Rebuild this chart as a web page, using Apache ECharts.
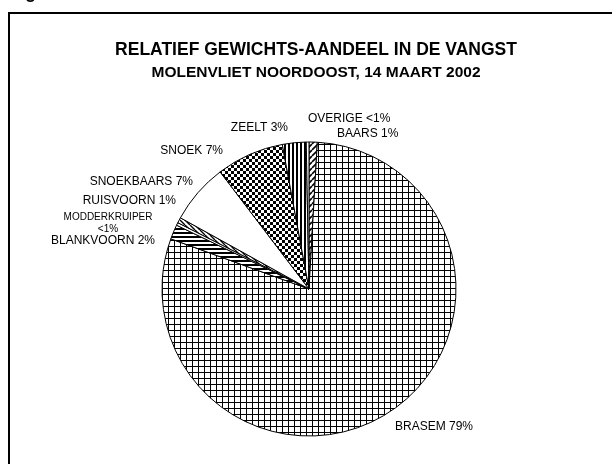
<!DOCTYPE html>
<html>
<head>
<meta charset="utf-8">
<script src="https://cdn.jsdelivr.net/npm/echarts@6/dist/echarts.min.js"></script>
<style>
  html, body { margin: 0; padding: 0; background: #fff; }
  #chart { width: 612px; height: 464px; }
</style>
</head>
<body>
<div id="chart"></div>
<script>
// Species and their share (%) of the catch weight, clockwise from 12 o'clock
const species = ['BAARS', 'BRASEM', 'BLANKVOORN', 'MODDERKRUIPER', 'RUISVOORN',
                 'SNOEKBAARS', 'SNOEK', 'ZEELT', 'OVERIGE'];
const shares = [0.9, 79.4, 1.6, 0.3, 0.6, 6.6, 7.4, 2.6, 0.3];

const titleText = 'RELATIEF GEWICHTS-AANDEEL IN DE VANGST';
const subtitleText = 'MOLENVLIET NOORDOOST, 14 MAART 2002';

const FONT = '"Liberation Sans", Arial, sans-serif';

// Black-and-white fill patterns
function pattern(size, draw) {
  const c = document.createElement('canvas');
  c.width = size; c.height = size;
  const ctx = c.getContext('2d');
  ctx.fillStyle = '#fff';
  ctx.fillRect(0, 0, size, size);
  ctx.fillStyle = '#000';
  ctx.strokeStyle = '#000';
  draw(ctx, size);
  return { image: c, repeat: 'repeat' };
}
function diagonal(dir, width) {
  return function (ctx, s) {
    ctx.lineWidth = width;
    ctx.beginPath();
    for (let o = -s; o <= s; o += s) {
      if (dir > 0) { ctx.moveTo(o, s); ctx.lineTo(o + s, 0); }
      else { ctx.moveTo(o, 0); ctx.lineTo(o + s, s); }
    }
    ctx.stroke();
  };
}
const fills = {
  BAARS: pattern(6, diagonal(1, 1.6)),
  BRASEM: pattern(6, (ctx, s) => { ctx.fillRect(0, 0, s, 1); ctx.fillRect(0, 0, 1, s); }),
  BLANKVOORN: pattern(4, (ctx, s) => { ctx.fillRect(0, 0, s, 2); }),
  MODDERKRUIPER: '#fff',
  RUISVOORN: pattern(5, diagonal(-1, 1.4)),
  SNOEKBAARS: '#fff',
  SNOEK: pattern(6, (ctx) => { ctx.fillRect(0, 0, 3, 3); ctx.fillRect(3, 3, 3, 3); }),
  ZEELT: pattern(4, (ctx, s) => { ctx.fillRect(0, 0, 2, s); }),
  OVERIGE: '#fff'
};

// Where each slice label sits next to the pie
const labelSpots = {
  BAARS: [337, 134, 'left'],
  BRASEM: [395, 427, 'left'],
  BLANKVOORN: [155, 241, 'right'],
  MODDERKRUIPER: [108, 223, 'center'],
  RUISVOORN: [176, 201, 'right'],
  SNOEKBAARS: [193, 182, 'right'],
  SNOEK: [223, 151, 'right'],
  ZEELT: [288, 128, 'right'],
  OVERIGE: [308, 119, 'left']
};

function pctText(v) {
  return v < 0.5 ? '<1%' : Math.round(v) + '%';
}

const pieData = species.map((name, i) => {
  const item = {
    name: name,
    value: shares[i],
    itemStyle: { color: fills[name] }
  };
  if (name === 'MODDERKRUIPER') {
    item.label = { fontSize: 10, lineHeight: 12, align: 'center' };
  }
  return item;
});

const chart = echarts.init(document.getElementById('chart'), null, { renderer: 'canvas' });

chart.setOption({
  animation: false,
  backgroundColor: '#fff',
  graphic: [
    {
      type: 'rect',
      shape: { x: 9, y: 13, width: 800, height: 800 },
      style: { fill: 'none', stroke: '#000', lineWidth: 2 },
      silent: true
    },
    {
      type: 'text',
      x: 9, y: -7,
      style: { text: 'Figuur', font: 'bold 18px ' + FONT, fill: '#000', verticalAlign: 'middle' },
      silent: true
    },
    {
      type: 'text',
      x: 316, y: 50,
      style: { text: titleText, font: 'bold 17.5px ' + FONT, fill: '#000', align: 'center', verticalAlign: 'middle' },
      silent: true
    },
    {
      type: 'text',
      x: 316, y: 73,
      style: { text: subtitleText, font: 'bold 15.5px ' + FONT, fill: '#000', align: 'center', verticalAlign: 'middle' },
      silent: true
    }
  ],
  series: [{
    type: 'pie',
    center: [309, 289],
    radius: 147,
    startAngle: 90,
    clockwise: true,
    avoidLabelOverlap: false,
    silent: true,
    data: pieData,
    itemStyle: { borderColor: '#000', borderWidth: 1 },
    label: {
      show: true,
      position: 'outside',
      color: '#000',
      fontFamily: FONT,
      fontSize: 12,
      formatter: (p) => p.name === 'MODDERKRUIPER'
        ? p.name + '\n' + pctText(p.value)
        : p.name + ' ' + pctText(p.value)
    },
    labelLine: { show: false },
    labelLayout: (p) => {
      const s = labelSpots[species[p.dataIndex]];
      return { x: s[0], y: s[1], align: s[2], verticalAlign: 'middle' };
    }
  }]
});
</script>
</body>
</html>
